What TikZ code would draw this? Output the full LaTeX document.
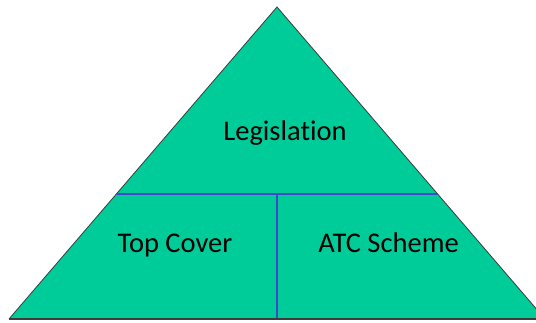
\documentclass[tikz,border=0pt]{standalone}
\usepackage{fontspec}
\setmainfont{Carlito}[Ligatures=NoCommon]
\definecolor{pyrfill}{RGB}{0,204,153}
\definecolor{divline}{RGB}{63,72,204}
\definecolor{edgegray}{RGB}{60,60,60}
\begin{document}
\begin{tikzpicture}[x=1pt,y=-1pt,
  lbl/.style={font=\fontsize{28.5}{34}\selectfont, text=black, inner sep=0pt, anchor=base},
  divider/.style={draw=divline, line width=1.8pt}]
\useasboundingbox (0,0) rectangle (536,323);
\clip (0,0) rectangle (536,323);
\coordinate (apex) at (277,7);
\coordinate (bl) at (9,319);
\coordinate (br) at (545,319);
\coordinate (ml) at (116,194);
\coordinate (mr) at (438,194);
\coordinate (mm) at (277,194);
\coordinate (mb) at (277,319);
\fill[pyrfill] (apex) -- (br) -- (bl) -- cycle;
\draw[edgegray, line width=0.8pt] (bl) -- (apex) -- (br);
\draw[divider] (ml) -- (mr);
\draw[divider] (mm) -- (mb);
\draw[edgegray, line width=1.5pt] (bl) -- (br);
\node[lbl] (leg) at (285,141) {Legislation};
\node[lbl] (top) at (175,253) {Top Cover};
\node[lbl] (atc) at (388.5,253) {ATC Scheme};
\end{tikzpicture}
\end{document}
